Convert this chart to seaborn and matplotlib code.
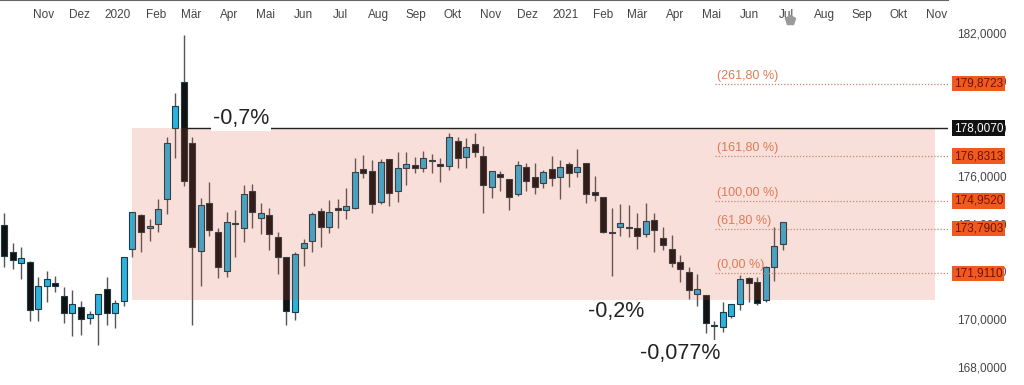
import numpy as np
import pandas as pd
import matplotlib
matplotlib.use('Agg')
import matplotlib.pyplot as plt
import matplotlib.dates as mdates
from matplotlib.patches import Rectangle
import seaborn as sns

# --- Weekly candles ---
START = "2019-09-30"
OPEN = [173.94, 172.80, 172.36, 172.40, 170.41, 171.40, 171.50, 170.98, 170.24, 170.52,
        170.05, 170.21, 171.24, 170.26, 170.77, 172.95, 174.36, 173.80, 173.97, 175.02,
        178.03, 179.93, 177.37, 172.85, 174.88, 173.64, 172.03, 174.04, 173.80, 175.37,
        174.25, 174.36, 173.43, 172.59, 170.30, 172.96, 173.29, 174.53, 173.87, 174.67,
        174.57, 174.67, 176.28, 176.21, 174.92, 176.71, 175.37, 176.32, 176.46, 176.32,
        176.66, 176.50, 176.42, 177.47, 176.78, 177.33, 176.85, 175.55, 176.07, 175.87,
        175.24, 176.39, 175.97, 175.69, 176.28, 175.94, 176.50, 176.16, 176.56, 175.32,
        175.13, 173.65, 173.85, 173.86, 173.83, 173.55, 174.15, 173.38, 172.92, 172.40,
        171.98, 171.04, 171.00, 169.75, 169.68, 170.14, 170.63, 171.71, 171.57, 170.80,
        172.19, 173.13]
HIGH = [174.46, 173.17, 173.03, 172.45, 171.75, 172.00, 171.79, 171.33, 171.21, 170.77,
        170.33, 171.04, 171.78, 170.80, 172.61, 174.50, 174.40, 174.18, 175.02, 177.62,
        179.50, 181.93, 177.62, 175.06, 175.76, 173.80, 174.50, 174.57, 175.62, 175.65,
        174.85, 174.64, 173.66, 172.59, 172.82, 173.34, 174.50, 174.64, 174.99, 175.02,
        175.48, 176.74, 176.88, 176.67, 176.70, 176.71, 177.02, 177.02, 176.78, 177.06,
        176.92, 176.74, 177.82, 177.62, 177.58, 177.82, 177.27, 176.21, 176.21, 175.87,
        176.64, 176.56, 176.56, 176.25, 176.84, 176.67, 176.60, 177.13, 176.56, 176.00,
        175.13, 174.64, 174.81, 174.78, 174.43, 174.85, 174.43, 173.87, 173.52, 172.68,
        172.17, 171.89, 171.00, 169.93, 170.73, 170.63, 171.85, 171.78, 171.78, 172.22,
        173.87, 174.06]
LOW = [172.19, 172.10, 171.66, 169.93, 169.93, 170.70, 171.12, 169.82, 169.28, 169.33,
       169.79, 168.91, 169.75, 169.61, 170.54, 172.59, 172.82, 173.27, 173.66, 174.39,
       176.74, 175.59, 169.75, 171.38, 173.48, 171.71, 171.78, 172.61, 173.22, 173.80,
       173.57, 172.89, 171.89, 169.75, 169.96, 172.22, 172.82, 173.01, 173.62, 173.80,
       174.19, 174.60, 175.90, 174.46, 174.82, 174.74, 174.92, 175.62, 176.14, 176.18,
       176.14, 175.76, 176.25, 176.32, 176.35, 176.81, 174.43, 175.06, 175.38, 174.57,
       175.16, 175.38, 175.24, 175.48, 175.58, 175.02, 175.55, 175.97, 174.88, 174.96,
       173.59, 171.80, 173.48, 173.45, 172.92, 173.45, 172.82, 172.89, 172.17, 171.56,
       170.82, 170.54, 169.40, 168.91, 169.47, 170.03, 170.38, 170.73, 170.59, 170.73,
       171.61, 172.89]
CLOSE = [172.65, 172.47, 172.55, 170.38, 171.40, 171.66, 171.37, 170.24, 170.62, 170.00,
         170.20, 171.04, 170.26, 170.68, 172.59, 174.48, 173.64, 173.91, 174.61, 177.37,
         178.95, 175.79, 173.01, 174.78, 173.73, 172.19, 174.06, 174.00, 175.23, 174.50,
         174.46, 173.57, 172.59, 170.35, 172.71, 173.17, 174.40, 173.87, 174.48, 174.56,
         174.74, 176.18, 176.11, 174.82, 176.60, 175.27, 176.32, 176.50, 176.35, 176.74,
         176.63, 176.42, 177.62, 176.74, 177.23, 176.99, 175.62, 176.21, 175.94, 175.11,
         176.46, 175.80, 175.52, 176.18, 175.90, 176.39, 176.14, 176.39, 175.23, 175.20,
         173.64, 173.62, 174.04, 173.80, 173.48, 174.12, 173.73, 173.10, 172.36, 172.08,
         171.22, 171.24, 169.82, 169.72, 170.28, 170.63, 171.68, 171.50, 170.68, 172.19,
         173.06, 174.06]

# --- Levels ---
RESISTANCE = 178.0070
BOX_LOW = 170.80
FIB_LEVELS = [179.8723, 176.8313, 174.9520, 173.7903, 171.9110]
FIB_LABELS = ["(261,80 %)", "(161,80 %)", "(100,00 %)", "(61,80 %)", "(0,00 %)"]
MOVE_LABELS = ["-0,7%", "-0,2%", "-0,077%"]
MOVE_VALUES = [178.43, 170.33, 168.57]
YTICKS = [168, 170, 172, 174, 176, 178, 180, 182]
MONTHS_DE = ["Jan", "Feb", "Mär", "Apr", "Mai", "Jun", "Jul", "Aug", "Sep", "Okt", "Nov", "Dez"]

BULL = '#2bb3df'
BEAR = '#111111'

sns.set_theme(style="white")
plt.rcParams['font.family'] = ['Liberation Sans', 'DejaVu Sans']

df = pd.DataFrame({'date': pd.date_range(START, periods=len(OPEN), freq='W-MON'),
                   'open': OPEN, 'high': HIGH, 'low': LOW, 'close': CLOSE})
df['x'] = mdates.date2num(df['date'])
df['up'] = df['close'] >= df['open']
x0 = df['x'].iloc[0]
week = 7.0

fig = plt.figure(figsize=(10.24, 3.85), dpi=100)
ax = fig.add_axes([0, 0, 948 / 1024, 1])

# wicks and bodies
ax.vlines(df['x'], df['low'], df['high'], color='#555555', lw=1, zorder=2)
body_low = df[['open', 'close']].min(axis=1)
body_h = (df['close'] - df['open']).abs().clip(lower=0.03)
ax.bar(df['x'], body_h, bottom=body_low, width=0.7 * week,
       color=np.where(df['up'], BULL, BEAR), edgecolor='#1d3a45', linewidth=0.8, zorder=3)

xlim = (x0 - 0.47 * week, x0 + 110.3 * week)
ax.set_xlim(xlim)
ax.set_ylim(167.23, 183.385)

# shaded range
ax.add_patch(Rectangle((x0 + 14.95 * week, BOX_LOW), 93.8 * week, RESISTANCE - BOX_LOW,
                       facecolor='#de5337', alpha=0.18, edgecolor='none', zorder=3.5))

# resistance line
ax.hlines(RESISTANCE, x0 + 20.9 * week, xlim[1], color='#222222', lw=1, zorder=4)

# fibonacci levels
fib_start = x0 + 83.1 * week
ax.hlines(FIB_LEVELS, fib_start, xlim[1], colors='#c08a74', linestyles=(0, (1, 1.5)),
          lw=0.9, zorder=4)
for lvl, lab in zip(FIB_LEVELS, FIB_LABELS):
    ax.annotate(lab, (fib_start, lvl), xytext=(1, 1.5), textcoords='offset points',
                fontsize=9, color='#e07a52', va='bottom', ha='left', zorder=6)

# move annotations (only the first one masks the line behind it)
for pos, lab, val, masked in zip([27.7, 71.5, 79.0], MOVE_LABELS, MOVE_VALUES,
                                 [True, False, True]):
    box = dict(boxstyle='square,pad=0.1', fc='white', ec='none') if masked else None
    ax.text(x0 + pos * week, val, lab, fontsize=15.5, color='#222222', ha='center',
            va='center', zorder=5, bbox=box)

# current-date marker
ax.plot(df['x'].iloc[-1] + 5.6, 182.55, marker='p', ms=7, color='#9a9a9a',
        clip_on=False, zorder=6)

# y axis on the right
ax.yaxis.tick_right()
ax.set_yticks(YTICKS)
ax.set_yticklabels([f"{v:.4f}".replace('.', ',') for v in YTICKS])
ax.tick_params(axis='y', length=0, pad=6.5, labelsize=8.5, labelcolor='#444444')

# months on top
month_starts = pd.date_range("2019-11-01", "2021-11-01", freq='MS')
month_labels = [str(d.year) if d.month == 1 else MONTHS_DE[d.month - 1] for d in month_starts]
ax.xaxis.tick_top()
ax.set_xticks(mdates.date2num(month_starts))
ax.set_xticklabels(month_labels)
ax.tick_params(axis='x', length=0, pad=-15, labelsize=8.5, labelcolor='#444444')

# price tags
for lvl in FIB_LEVELS:
    ax.text(1.0063, lvl, f"{lvl:.4f}".replace('.', ','), transform=ax.get_yaxis_transform(),
            fontsize=8.5, color='#6e1400', va='center', ha='left', zorder=10,
            bbox=dict(boxstyle='square,pad=0.15', fc='#f05a1e', ec='none'))
ax.text(1.0063, RESISTANCE, f"{RESISTANCE:.4f}".replace('.', ','),
        transform=ax.get_yaxis_transform(), fontsize=8.5, color='white', va='center',
        ha='left', zorder=10, bbox=dict(boxstyle='square,pad=0.15', fc='#111111', ec='none'))

for side in ['left', 'right', 'bottom']:
    ax.spines[side].set_visible(False)
ax.spines['top'].set_color('#666666')
ax.spines['top'].set_linewidth(1.5)
ax.grid(False)

fig.savefig('out.png', dpi=100)
